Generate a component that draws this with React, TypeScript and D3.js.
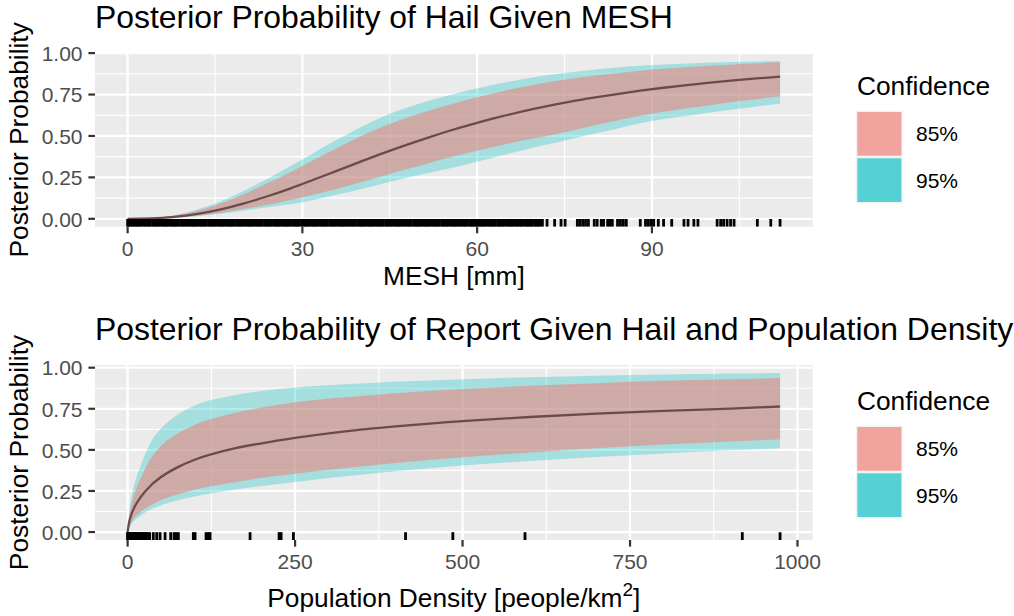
import React from "react";
import * as d3 from "d3";

// ---------------- DATA ----------------
// Panel 1: posterior probability of hail given MESH
const meshGrid = [0, 4, 8, 12, 16, 20, 24, 28, 32, 36, 40, 44, 48, 52, 56, 60, 64, 68, 72, 76, 80, 84, 88, 92, 96, 100, 104, 108, 112];
const meshMedian = [0, 0.0022, 0.0114, 0.0296, 0.057, 0.093, 0.136, 0.184, 0.237, 0.291, 0.345, 0.398, 0.448, 0.495, 0.539, 0.579, 0.616, 0.65, 0.68, 0.707, 0.731, 0.753, 0.773, 0.791, 0.807, 0.822, 0.835, 0.847, 0.858];
const meshUpper95 = [0, 0.0042, 0.0217, 0.0557, 0.106, 0.169, 0.242, 0.319, 0.399, 0.478, 0.552, 0.619, 0.671, 0.715, 0.753, 0.788, 0.818, 0.844, 0.867, 0.885, 0.9, 0.913, 0.924, 0.932, 0.938, 0.943, 0.947, 0.95, 0.953];
const meshUpper85 = [0, 0.0036, 0.0187, 0.0484, 0.092, 0.148, 0.214, 0.283, 0.357, 0.428, 0.498, 0.558, 0.611, 0.655, 0.696, 0.733, 0.767, 0.797, 0.824, 0.846, 0.864, 0.879, 0.894, 0.905, 0.916, 0.924, 0.932, 0.939, 0.945];
const meshLower85 = [0, 0.0015, 0.0075, 0.0193, 0.037, 0.06, 0.0855, 0.114, 0.147, 0.182, 0.221, 0.26, 0.3, 0.339, 0.377, 0.411, 0.443, 0.474, 0.5, 0.53, 0.563, 0.593, 0.622, 0.646, 0.667, 0.686, 0.706, 0.722, 0.739];
const meshLower95 = [0, 0.0012, 0.0062, 0.0161, 0.031, 0.05, 0.07, 0.088, 0.114, 0.146, 0.179, 0.215, 0.248, 0.279, 0.309, 0.345, 0.381, 0.415, 0.448, 0.48, 0.513, 0.544, 0.576, 0.602, 0.621, 0.641, 0.66, 0.678, 0.694];
const meshRug = [
  0, 0.2, 0.5, 0.8, 1.1, 1.4, 1.7, 2.0, 2.3, 2.7, 3.0, 3.3, 3.6, 3.9, 4.3, 4.6, 4.9, 5.2, 5.5, 5.9, 6.2, 6.5, 6.8, 7.1, 7.5, 7.8, 8.1, 8.4, 8.7, 9.1,
  9.4, 9.7, 10.0, 10.3, 10.7, 11.0, 11.3, 11.6, 11.9, 12.3, 12.6, 12.9, 13.2, 13.5, 13.9, 14.2, 14.5, 14.8, 15.1, 15.5, 15.8, 16.1, 16.4, 16.7, 17.1,
  17.4, 17.7, 18.0, 18.3, 18.7, 19.0, 19.3, 19.6, 19.9, 20.3, 20.6, 20.9, 21.2, 21.5, 21.9, 22.2, 22.5, 22.8, 23.1, 23.5, 23.8, 24.1, 24.4, 24.7,
  25.1, 25.4, 25.7, 26.0, 26.3, 26.7, 27.0, 27.3, 27.6, 27.9, 28.3, 28.6, 28.9, 29.2, 29.5, 29.9, 30.2, 30.5, 30.8, 31.1, 31.5, 31.8, 32.1, 32.4,
  32.7, 33.1, 33.4, 33.7, 34.0, 34.3, 34.7, 35.0, 35.3, 35.6, 35.9, 36.3, 36.6, 36.9, 37.2, 37.5, 37.9, 38.2, 38.5, 38.8, 39.1, 39.5, 39.8, 40.1,
  40.4, 40.7, 41.1, 41.4, 41.7, 42.0, 42.3, 42.7, 43.0, 43.3, 43.6, 43.9, 44.3, 44.6, 44.9, 45.2, 45.5, 45.9, 46.2, 46.5, 46.8, 47.1, 47.5, 47.8,
  48.1, 48.4, 48.7, 49.1, 49.4, 49.7, 50.0, 50.3, 50.7, 51.0, 51.3, 51.6, 51.9, 52.3, 52.6, 52.9, 53.2, 53.5, 53.9, 54.2, 54.5, 54.8, 55.1, 55.5,
  55.8, 56.1, 56.4, 56.7, 57.1, 57.4, 57.7, 58.0, 58.3, 58.7, 59.0, 59.3, 59.6, 59.9, 60.3, 60.6, 60.9, 61.2, 61.5, 61.9, 62.2, 62.5, 62.8, 63.1,
  63.5, 63.8, 64.1, 64.4, 64.7, 65.1, 65.4, 65.7, 66.0, 66.3, 66.7, 67.0, 67.3, 67.6, 67.9, 68.3, 68.6, 68.9, 69.2, 69.5, 69.9, 70.2, 70.5, 70.8, 71.2,
  72.0, 73.3, 74.4, 75.1, 77.2, 77.6, 78.1, 78.6, 79.1, 80.1, 80.6, 81.3, 81.7, 82.4, 82.8, 83.2, 84.1, 84.6, 85.1, 85.6, 88.0, 88.9, 89.4, 89.9,
  90.3, 91.1, 92.0, 93.4, 95.5, 96.2, 97.2, 97.9, 101.2, 101.8, 102.3, 102.9, 103.5, 104.1, 108.1, 110.4, 112.0,
];
const meshTicks = [0, 30, 60, 90];

// Panel 2: posterior probability of report given hail and population density
const popGrid = [0, 2, 5, 10, 20, 35, 50, 75, 100, 150, 200, 250, 325, 400, 500, 600, 700, 800, 900, 974];
const popMedian = [0, 0.055, 0.1, 0.15, 0.215, 0.285, 0.335, 0.395, 0.44, 0.5, 0.54, 0.573, 0.613, 0.643, 0.675, 0.7, 0.72, 0.737, 0.751, 0.764];
const popUpper95 = [0, 0.11, 0.2, 0.29, 0.41, 0.55, 0.63, 0.715, 0.77, 0.825, 0.858, 0.88, 0.9, 0.915, 0.93, 0.942, 0.951, 0.958, 0.964, 0.968];
const popUpper85 = [0, 0.085, 0.155, 0.23, 0.33, 0.45, 0.525, 0.6, 0.652, 0.715, 0.758, 0.79, 0.82, 0.845, 0.87, 0.89, 0.906, 0.92, 0.93, 0.937];
const popLower85 = [0, 0.028, 0.055, 0.085, 0.125, 0.165, 0.195, 0.23, 0.258, 0.297, 0.33, 0.355, 0.39, 0.42, 0.455, 0.484, 0.51, 0.533, 0.551, 0.564];
const popLower95 = [0, 0.022, 0.043, 0.068, 0.102, 0.138, 0.163, 0.193, 0.217, 0.252, 0.28, 0.305, 0.34, 0.37, 0.405, 0.432, 0.456, 0.478, 0.497, 0.51];
const popRug = [
  0, 0.4, 0.9, 1.3, 1.8, 2.4, 3.1, 3.7, 4.5, 5.2, 6.0, 6.8, 7.7, 8.6, 9.5, 10.4, 11.6, 12.8, 14.0, 15.3, 16.7, 18.1, 19.6, 21.2, 22.9, 24.6,
  26.5, 28.4, 30.6, 32.9, 38.4, 43.4, 48.4, 55.9, 64.3, 69.3, 72.3, 75.7, 98.1, 100.7, 117.1, 120.5, 123.1, 182.8, 226.1, 229.1, 247.5,
  414.9, 485.5, 593.2, 917.6, 974.0,
];
const popTicks = [0, 250, 500, 750, 1000];

const yTicks = [0, 0.25, 0.5, 0.75, 1];
const legendLabels = ["85%", "95%"];

// ---------------- STYLE ----------------
const FONT = "'Liberation Sans', Arial, Helvetica, sans-serif";
const PANEL_BG = "#EBEBEB";
const FILL95 = "#00BFC4";
const FILL85 = "#F8766D";
const LEGEND_COLORS = ["#F3A39D", "#55D1D4"];
const LINE_COLOR = "#6B4B48";

type PanelProps = {
  top: number;
  bottom: number;
  title: string;
  xTitle: React.ReactNode;
  grid: number[];
  med: number[];
  lo95: number[];
  hi95: number[];
  lo85: number[];
  hi85: number[];
  rug: number[];
  xTicks: number[];
  xTitleBaseline: number;
  legendShift: number;
};

const LEFT = 95;
const RIGHT = 812.7;

function minorBreaks(major: number[], domain: [number, number]) {
  const step = major[1] - major[0];
  const ext = [major[0] - step, ...major, major[major.length - 1] + step];
  const res: number[] = [];
  for (let i = 0; i < ext.length - 1; i++) {
    const m = (ext[i] + ext[i + 1]) / 2;
    if (m >= domain[0] && m <= domain[1]) res.push(m);
  }
  return res;
}

function Panel(p: PanelProps) {
  const xmin = Math.min(d3.min(p.grid)!, d3.min(p.rug)!);
  const xmax = Math.max(d3.max(p.grid)!, d3.max(p.rug)!);
  const xpad = (xmax - xmin) * 0.05;
  const x = d3.scaleLinear().domain([xmin - xpad, xmax + xpad]).range([LEFT, RIGHT]);
  const ymin = d3.min(p.lo95)!;
  const ymax = d3.max(p.hi95)!;
  const ypad = (ymax - ymin) * 0.05;
  const y = d3.scaleLinear().domain([ymin - ypad, ymax + ypad]).range([p.bottom, p.top]);

  const rows = p.grid.map((g, i) => ({ g, med: p.med[i], lo95: p.lo95[i], hi95: p.hi95[i], lo85: p.lo85[i], hi85: p.hi85[i] }));
  const curve = d3.curveMonotoneX;
  const area95 = d3.area<any>().x((d) => x(d.g)).y0((d) => y(d.lo95)).y1((d) => y(d.hi95)).curve(curve);
  const area85 = d3.area<any>().x((d) => x(d.g)).y0((d) => y(d.lo85)).y1((d) => y(d.hi85)).curve(curve);
  const line = d3.line<any>().x((d) => x(d.g)).y((d) => y(d.med)).curve(curve);

  const xd = x.domain() as [number, number];
  const yd = y.domain() as [number, number];
  const xMinor = minorBreaks(p.xTicks, xd);
  const yMinor = minorBreaks(yTicks, yd);
  const xMajor = p.xTicks.filter((t) => t >= xd[0] && t <= xd[1]);
  const yMajor = yTicks.filter((t) => t >= yd[0] && t <= yd[1]);
  const fmt = d3.format(".2f");

  const midY = (p.top + p.bottom) / 2;
  const midX = (LEFT + RIGHT) / 2;

  const legX = 856;
  const legTitleY = 94.5 + p.legendShift;
  const keyTop = 110.7 + p.legendShift;
  const keyW = 46.7;
  const keyH = 46.3;

  return (
    <g>
      {/* title */}
      <text x={LEFT} y={p.top - 25} fontSize={31.9} fill="#000" fontFamily={FONT}>
        {p.title}
      </text>
      {/* panel */}
      <rect x={LEFT} y={p.top} width={RIGHT - LEFT} height={p.bottom - p.top} fill={PANEL_BG} />
      <clipPath id={`clip${p.top}`}>
        <rect x={LEFT} y={p.top} width={RIGHT - LEFT} height={p.bottom - p.top} />
      </clipPath>
      <g clipPath={`url(#clip${p.top})`}>
        {yMinor.map((t) => (
          <line key={`ym${t}`} x1={LEFT} x2={RIGHT} y1={y(t)} y2={y(t)} stroke="#fff" strokeWidth={1.1} />
        ))}
        {xMinor.map((t) => (
          <line key={`xm${t}`} y1={p.top} y2={p.bottom} x1={x(t)} x2={x(t)} stroke="#fff" strokeWidth={1.1} />
        ))}
        {yMajor.map((t) => (
          <line key={`yM${t}`} x1={LEFT} x2={RIGHT} y1={y(t)} y2={y(t)} stroke="#fff" strokeWidth={2.2} />
        ))}
        {xMajor.map((t) => (
          <line key={`xM${t}`} y1={p.top} y2={p.bottom} x1={x(t)} x2={x(t)} stroke="#fff" strokeWidth={2.2} />
        ))}
        <path d={area95(rows)!} fill={FILL95} fillOpacity={0.3} />
        <path d={area85(rows)!} fill={FILL85} fillOpacity={0.5} />
        <path d={line(rows)!} fill="none" stroke={LINE_COLOR} strokeWidth={2.3} />
        {p.rug.map((r, i) => (
          <line key={`r${i}`} x1={x(r)} x2={x(r)} y1={p.bottom - 7.8} y2={p.bottom} stroke="#000" strokeWidth={2.8} />
        ))}
      </g>
      {/* y axis */}
      {yMajor.map((t) => (
        <g key={`yt${t}`}>
          <line x1={LEFT - 6.6} x2={LEFT} y1={y(t)} y2={y(t)} stroke="#333" strokeWidth={2.2} />
          <text x={LEFT - 12.5} y={y(t) + 7.8} textAnchor="end" fontSize={21} fill="#4D4D4D" fontFamily={FONT}>
            {fmt(t)}
          </text>
        </g>
      ))}
      {/* x axis */}
      {xMajor.map((t) => (
        <g key={`xt${t}`}>
          <line x1={x(t)} x2={x(t)} y1={p.bottom} y2={p.bottom + 6.6} stroke="#333" strokeWidth={2.2} />
          <text x={x(t)} y={p.bottom + 28.8} textAnchor="middle" fontSize={21} fill="#4D4D4D" fontFamily={FONT}>
            {t}
          </text>
        </g>
      ))}
      <text x={midX} y={p.xTitleBaseline} textAnchor="middle" fontSize={26.3} fill="#000" fontFamily={FONT}>
        {p.xTitle}
      </text>
      <text
        transform={`translate(28,${midY}) rotate(-90)`}
        textAnchor="middle"
        fontSize={26.3}
        fill="#000"
        fontFamily={FONT}
      >
        Posterior Probability
      </text>
      {/* legend */}
      <text x={legX + 1} y={legTitleY} fontSize={26.3} fill="#000" fontFamily={FONT}>
        Confidence
      </text>
      {legendLabels.map((lab, i) => (
        <g key={lab}>
          <rect x={legX} y={keyTop + i * keyH} width={keyW} height={keyH} fill="#F2F2F2" />
          <rect x={legX + 1.3} y={keyTop + i * keyH + 1.3} width={keyW - 2.6} height={keyH - 2.6} fill={LEGEND_COLORS[i]} />
          <text x={916} y={keyTop + i * keyH + keyH / 2 + 7.5} fontSize={21} fill="#000" fontFamily={FONT}>
            {lab}
          </text>
        </g>
      ))}
    </g>
  );
}

export default function App() {
  return (
    <svg
      width={1014}
      height={616}
      style={{ position: "absolute", left: 0, top: 0, display: "block", background: "#fff" }}
    >
      <Panel
        top={53}
        bottom={226.7}
        title="Posterior Probability of Hail Given MESH"
        xTitle="MESH [mm]"
        grid={meshGrid}
        med={meshMedian}
        lo95={meshLower95}
        hi95={meshUpper95}
        lo85={meshLower85}
        hi85={meshUpper85}
        rug={meshRug}
        xTicks={meshTicks}
        xTitleBaseline={284.5}
        legendShift={0}
      />
      <Panel
        top={365}
        bottom={540}
        title="Posterior Probability of Report Given Hail and Population Density"
        xTitle={
          <>
            <tspan>Population Density [people/km</tspan>
            <tspan fontSize={19} dy={-11}>2</tspan>
            <tspan dy={11}>]</tspan>
          </>
        }
        grid={popGrid}
        med={popMedian}
        lo95={popLower95}
        hi95={popUpper95}
        lo85={popLower85}
        hi85={popUpper85}
        rug={popRug}
        xTicks={popTicks}
        xTitleBaseline={607}
        legendShift={315}
      />
    </svg>
  );
}
